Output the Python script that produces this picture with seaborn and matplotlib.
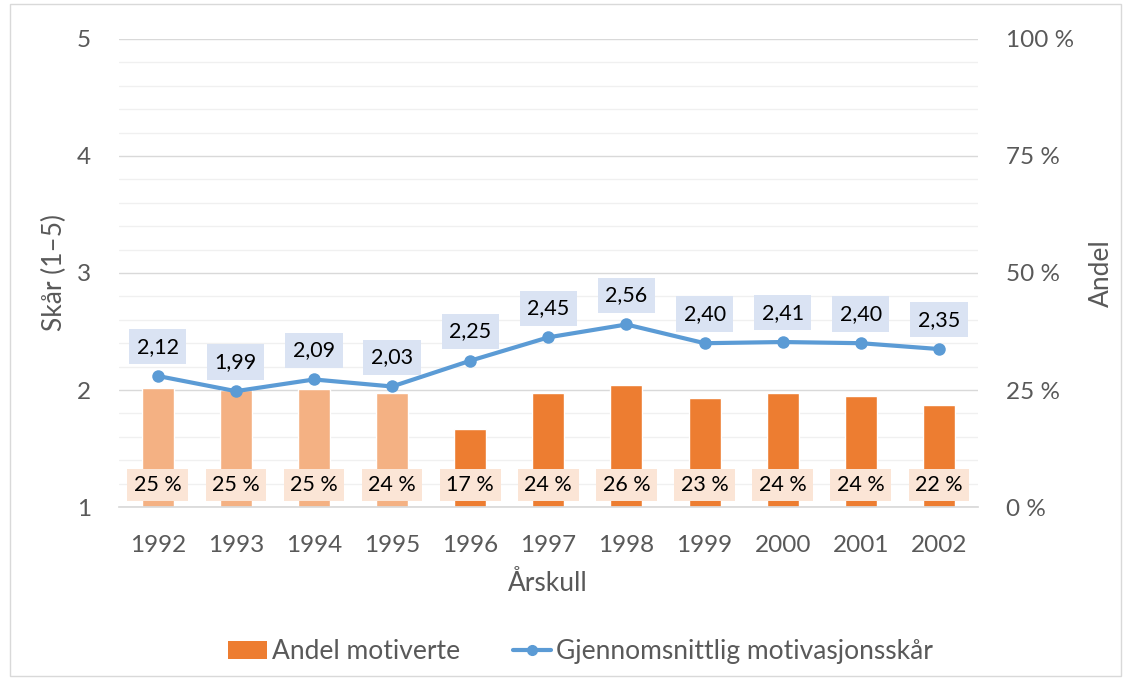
import matplotlib
matplotlib.use("Agg")
import matplotlib.pyplot as plt
import seaborn as sns
import numpy as np
import pandas as pd
from matplotlib.patches import Patch, Rectangle
from matplotlib.lines import Line2D
from matplotlib.ticker import MultipleLocator, FixedLocator

years = ["1992", "1993", "1994", "1995", "1996", "1997", "1998", "1999", "2000", "2001", "2002"]
andel = [25.4, 25.0, 25.3, 24.4, 16.7, 24.4, 26.1, 23.3, 24.3, 23.8, 21.9]
andel_labels = ["25 %", "25 %", "25 %", "24 %", "17 %", "24 %", "26 %", "23 %", "24 %", "24 %", "22 %"]
score = [2.12, 1.99, 2.09, 2.03, 2.25, 2.45, 2.56, 2.40, 2.41, 2.40, 2.35]
score_labels = ["2,12", "1,99", "2,09", "2,03", "2,25", "2,45", "2,56", "2,40", "2,41", "2,40", "2,35"]

light_orange = "#F4B183"
orange = "#ED7D31"
blue = "#5B9BD5"
bar_colors = [light_orange] * 4 + [orange] * 7

sns.set_theme(style="white")
FONT = ["Lato", "DejaVu Sans"]
plt.rcParams["font.family"] = FONT

TICK_FS = 17.5
LABEL_FS = 19

fig = plt.figure(figsize=(11.3, 6.79), dpi=100)
fig.patches.append(Rectangle((0.009, 0.004), 0.983, 0.99, transform=fig.transFigure,
                             fill=False, edgecolor="#D9D9D9", lw=1.0))

ax_bar = fig.add_axes([0.105, 0.2533, 0.7605, 0.6893])
df = pd.DataFrame({"year": years, "andel": andel})
sns.barplot(data=df, x="year", y="andel", hue="year", palette=bar_colors, legend=False,
            ax=ax_bar, width=0.41, saturation=1)
ax_line = ax_bar.twinx()

ax_bar.set_ylim(0, 100)
ax_bar.set_xlim(-0.5, len(years) - 0.5)
ax_bar.yaxis.set_major_locator(FixedLocator([0, 25, 50, 75, 100]))
ax_bar.yaxis.set_minor_locator(MultipleLocator(5))
ax_bar.grid(which="minor", axis="y", color="#F0F0F0", lw=1.0)
ax_bar.grid(which="major", axis="y", color="#D9D9D9", lw=1.0)
ax_bar.set_axisbelow(True)
ax_bar.yaxis.tick_right()
ax_bar.yaxis.set_label_position("right")
ax_bar.set_yticklabels(["0 %", "25 %", "50 %", "75 %", "100 %"])
ax_bar.tick_params(axis="y", which="both", length=0, pad=20, labelsize=TICK_FS, labelcolor="#595959")
ax_bar.tick_params(axis="x", length=0, pad=20, labelsize=TICK_FS, labelcolor="#595959")
ax_bar.set_ylabel("Andel", fontsize=LABEL_FS, color="#595959", labelpad=11)
ax_bar.set_xlabel("Årskull", fontsize=LABEL_FS, color="#595959", labelpad=11)
for s in ax_bar.spines.values():
    s.set_visible(False)
ax_bar.spines["bottom"].set_visible(True)
ax_bar.spines["bottom"].set_color("#D9D9D9")

for i, lab in enumerate(andel_labels):
    ax_bar.text(i, 4.7, lab, ha="center", va="center", fontsize=15.5, color="#000000",
                bbox=dict(boxstyle="square,pad=0.3", fc="#FBE5D6", ec="none"), zorder=5)

sns.lineplot(x=np.arange(len(years)), y=score, ax=ax_line, color=blue, lw=3,
             marker="o", markersize=9, markeredgewidth=0, zorder=4)
ax_line.set_ylim(1, 5)
ax_line.set_xlim(-0.5, len(years) - 0.5)
ax_line.yaxis.tick_left()
ax_line.yaxis.set_label_position("left")
ax_line.set_yticks([1, 2, 3, 4, 5])
ax_line.tick_params(axis="y", length=0, pad=20, labelsize=TICK_FS, labelcolor="#595959")
ax_line.set_ylabel("Skår (1–5)", fontsize=LABEL_FS, color="#595959", labelpad=7)
for s in ax_line.spines.values():
    s.set_visible(False)

for i, (v, lab) in enumerate(zip(score, score_labels)):
    ax_line.annotate(lab, (i, v), xytext=(0, 21), textcoords="offset points",
                     ha="center", va="center", fontsize=15.5, color="#000000",
                     bbox=dict(boxstyle="square,pad=0.35", fc="#DAE3F3", ec="none"), zorder=6)

handles = [Patch(facecolor=orange, edgecolor="none"),
           Line2D([0], [0], color=blue, lw=3, marker="o", markersize=7)]
fig.legend(handles, ["Andel motiverte", "Gjennomsnittlig motivasjonsskår"],
           loc="center", bbox_to_anchor=(0.514, 0.04), ncol=2, frameon=False,
           fontsize=LABEL_FS, labelcolor="#595959", handlelength=1.45, handletextpad=0.2,
           columnspacing=2.0)

fig.savefig("out.png", dpi=100)
